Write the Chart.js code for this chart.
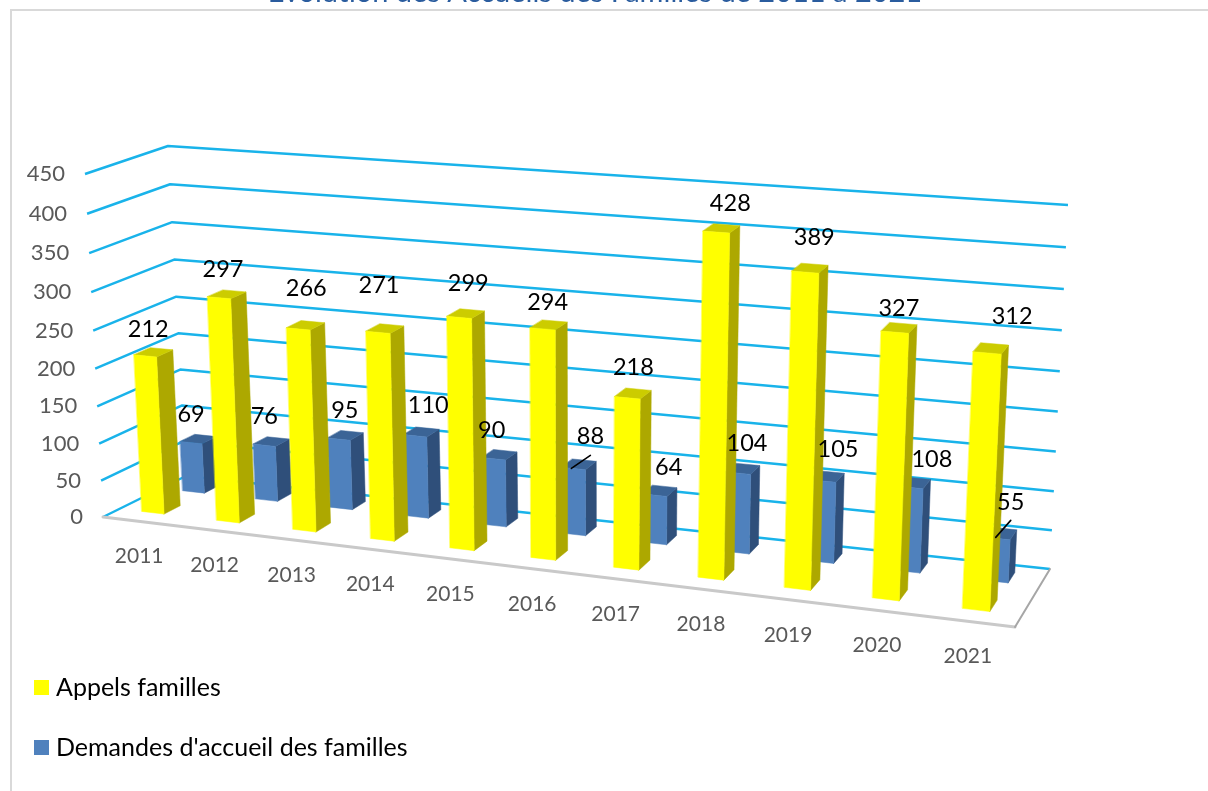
<!DOCTYPE html>
<html lang="fr">
<head>
<meta charset="utf-8">
<title>Appels et demandes d'accueil des familles</title>
<script src="https://cdn.jsdelivr.net/npm/chart.js@4"></script>
<style>
html,body{margin:0;padding:0;background:#fff;overflow:hidden}
canvas{display:block}
</style>
</head>
<body>
<canvas id="c" width="1208" height="791"></canvas>
<script>
// ---- data ----
const years = ['2011','2012','2013','2014','2015','2016','2017','2018','2019','2020','2021'];
const appelsFamilles = [212,297,266,271,299,294,218,428,389,327,312];
const demandesAccueil = [69,76,95,110,90,88,64,104,105,108,55];
const yTicks = [0,50,100,150,200,250,300,350,400,450];
const titleText = 'Évolution des Accueils des Familles de 2011 à 2021';

// ---- scene set-up: 3D box the flat chart is projected into ----
const BOX = {
  FLB:[103,517], FLT:[85,174], FRB:[1015,627], FRT:[1033,245],
  BLB:[186,476], BLT:[168,146], BRB:[1050,569], BRT:[1068,205]
};
const lerp = (a,b,t)=>[a[0]+(b[0]-a[0])*t, a[1]+(b[1]-a[1])*t];
const vPersp = v => v/(1+0.05*(1-v));       // heights widen toward the top
function project(u,v,d){
  const w=vPersp(v);
  const fl=lerp(BOX.FLB,BOX.FLT,w), fr=lerp(BOX.FRB,BOX.FRT,w);
  const bl=lerp(BOX.BLB,BOX.BLT,w), br=lerp(BOX.BRB,BOX.BRT,w);
  return lerp(lerp(fl,fr,u),lerp(bl,br,u),d);
}
const persp = u => u/(1.12-0.12*u);         // categories widen toward the viewer
const barU = u => { const p=persp(u); return p-0.004*(1-p); };

const STYLE = [
  {front:'#FFFF00', side:'#ADA800', top:'#CCCC00', d0:0.20, d1:0.40},
  {front:'#4F81BD', side:'#2F4F7A', top:'#3B6496', d0:0.70, d1:0.88}
];
// manual data-label displacement relative to the top of each bar
const NUDGE = [
  [[3,-26],[4,-28],[8,-41],[1,-47],[9,-34],[5,-26],[6,-30],[14,-29],[9,-35],[4,-24],[25,-36]],
  [[0,-28],[0,-29],[6,-29],[13,-30],[-2,-28],[17,-32],[14,-28],[9,-30],[15,-32],[22,-28],[14,-36]]
];
const LEADERS = {'1:5':[[0,19],[-19,32]], '1:10':[[0,18],[-15,35]]};

function poly(ctx,pts,fill){
  ctx.beginPath();
  pts.forEach((p,i)=> i?ctx.lineTo(p[0],p[1]):ctx.moveTo(p[0],p[1]));
  ctx.closePath();
  ctx.fillStyle=fill; ctx.strokeStyle=fill; ctx.lineWidth=0.5;
  ctx.fill(); ctx.stroke();
}

const scenePlugin = {
  id:'scene3d',
  beforeDatasetsDraw(chart){
    const {ctx,chartArea:a,scales:{x,y}} = chart;
    const W=a.right-a.left, H=a.bottom-a.top;
    ctx.save();

    // frame + cropped title
    ctx.fillStyle='#D9D9D9';
    ctx.fillRect(10,9,1198,2);
    ctx.fillRect(10,9,2,782);
    ctx.font='29px Lato'; ctx.fillStyle='#2A5C9E';
    ctx.textAlign='center'; ctx.textBaseline='alphabetic';
    ctx.fillText(titleText,595,2);

    // floor
    poly(ctx,[BOX.FLB,BOX.FRB,BOX.BRB,BOX.BLB],'#FFFFFF');

    // gridlines on left and back walls, with y tick labels
    y.ticks.forEach(t=>{
      const v=(a.bottom-y.getPixelForValue(t.value))/H;
      const p0=project(0,v,0), p1=project(0,v,1), p2=project(1,v,1);
      ctx.beginPath();
      ctx.moveTo(p0[0],p0[1]); ctx.lineTo(p1[0],p1[1]); ctx.lineTo(p2[0],p2[1]);
      ctx.strokeStyle='#19B3EA'; ctx.lineWidth=2.5; ctx.lineJoin='round';
      ctx.stroke();
      ctx.font='22px Lato'; ctx.fillStyle='#595959';
      ctx.textAlign='right'; ctx.textBaseline='middle';
      ctx.fillText(String(t.value),p0[0]-20,p0[1]);
    });

    // floor edges
    ctx.lineCap='round';
    ctx.beginPath(); ctx.moveTo(BOX.FLB[0],BOX.FLB[1]); ctx.lineTo(BOX.FRB[0],BOX.FRB[1]);
    ctx.strokeStyle='#C9C9C9'; ctx.lineWidth=3; ctx.stroke();
    ctx.beginPath(); ctx.moveTo(BOX.FRB[0],BOX.FRB[1]); ctx.lineTo(BOX.BRB[0],BOX.BRB[1]);
    ctx.strokeStyle='#A6A6A6'; ctx.lineWidth=2; ctx.stroke();

    // category labels
    x.ticks.forEach((t,i)=>{
      const u=(x.getPixelForTick(i)-a.left)/W;
      const p=project(persp(u),0,0);
      ctx.font='21px Lato'; ctx.fillStyle='#595959';
      ctx.textAlign='center'; ctx.textBaseline='middle';
      ctx.fillText(x.getLabelForValue(t.value),p[0]-1,p[1]+35);
    });

    // bars: rear series first
    for(const ds of [1,0]){
      const s=STYLE[ds];
      chart.getDatasetMeta(ds).data.forEach(el=>{
        const c=(el.x-a.left)/W, hw=el.width/W/2;
        const u0=barU(c-hw), u1=barU(c+hw);
        const v=(a.bottom-el.y)/H;
        const P=(u,vv,d)=>project(u,vv,d);
        poly(ctx,[P(u1,0,s.d0),P(u1,0,s.d1),P(u1,v,s.d1),P(u1,v,s.d0)],s.side);
        poly(ctx,[P(u0,v,s.d0),P(u1,v,s.d0),P(u1,v,s.d1),P(u0,v,s.d1)],s.top);
        poly(ctx,[P(u0,0,s.d0),P(u1,0,s.d0),P(u1,v,s.d0),P(u0,v,s.d0)],s.front);
      });
    }

    // data labels
    for(const ds of [1,0]){
      const s=STYLE[ds];
      chart.getDatasetMeta(ds).data.forEach((el,i)=>{
        const c=(el.x-a.left)/W;
        const v=(a.bottom-el.y)/H;
        const p=project(barU(c),v,s.d0);
        const n=NUDGE[ds][i];
        const lx=p[0]+n[0], ly=p[1]+n[1];
        ctx.font='23.5px Lato'; ctx.fillStyle='#000';
        ctx.textAlign='center'; ctx.textBaseline='middle';
        ctx.fillText(String(chart.data.datasets[ds].data[i]),lx,ly);
        const L=LEADERS[ds+':'+i];
        if(L){
          ctx.beginPath();
          ctx.moveTo(lx+L[0][0],ly+L[0][1]); ctx.lineTo(lx+L[1][0],ly+L[1][1]);
          ctx.strokeStyle='#000'; ctx.lineWidth=1.6; ctx.stroke();
        }
      });
    }

    // legend
    chart.data.datasets.forEach((d,i)=>{
      const ly=680+i*60;
      ctx.fillStyle=d.backgroundColor;
      ctx.fillRect(34,ly,15,15);
      ctx.font='25px Lato'; ctx.fillStyle='#000';
      ctx.textAlign='left'; ctx.textBaseline='middle';
      ctx.fillText(d.label,56,ly+7.5);
    });

    ctx.restore();
    return false; // the 3D scene replaces the flat bars
  }
};

new Chart(document.getElementById('c'),{
  type:'bar',
  data:{
    labels:years,
    datasets:[
      {label:'Appels familles',data:appelsFamilles,backgroundColor:'#FFFF00',grouped:false},
      {label:"Demandes d'accueil des familles",data:demandesAccueil,backgroundColor:'#4F81BD',grouped:false}
    ]
  },
  options:{
    responsive:false,
    animation:false,
    layout:{padding:0},
    barPercentage:0.3,
    categoryPercentage:1,
    plugins:{legend:{display:false},tooltip:{enabled:false},title:{display:false}},
    scales:{
      x:{display:false,grid:{display:false},ticks:{autoSkip:false}},
      y:{display:false,min:0,max:450,grid:{display:false},
         afterBuildTicks(s){s.ticks=yTicks.map(value=>({value}));}}
    }
  },
  plugins:[scenePlugin]
});
</script>
</body>
</html>
